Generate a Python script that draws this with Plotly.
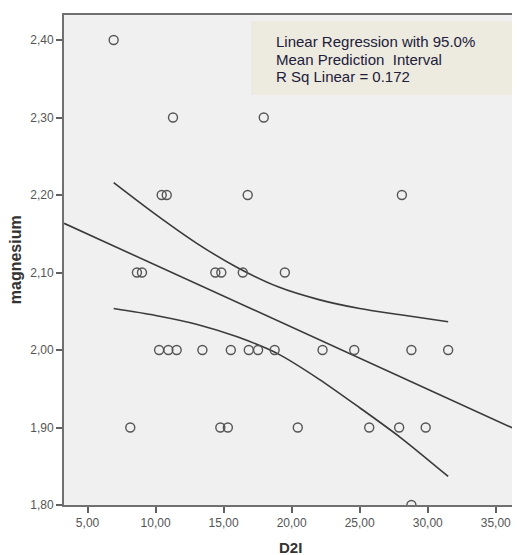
import plotly.graph_objects as go

# Scatter data (D2I vs magnesium)
d2i = [6.92, 11.28, 17.95,
       10.45, 10.82, 16.77, 28.1,
       8.63, 9.0, 14.39, 14.83, 16.41, 19.5,
       10.26, 10.94, 11.55, 13.44, 15.53, 16.85, 17.53, 18.75, 22.27, 24.6, 28.8, 31.5,
       8.14, 14.76, 15.31, 20.45, 25.7, 27.9, 29.85,
       28.8]
magnesium = [2.40, 2.30, 2.30,
             2.20, 2.20, 2.20, 2.20,
             2.10, 2.10, 2.10, 2.10, 2.10, 2.10,
             2.00, 2.00, 2.00, 2.00, 2.00, 2.00, 2.00, 2.00, 2.00, 2.00, 2.00, 2.00,
             1.90, 1.90, 1.90, 1.90, 1.90, 1.90, 1.90,
             1.80]

# Fit line
fit_x = [3.27, 36.56]
fit_y = [2.1635, 1.8968]

# 95% mean prediction interval curves
band_x = [6.92, 10, 13, 16, 19, 22, 25, 28, 31.5]
upper_y = [2.2160, 2.1750, 2.1380, 2.1065, 2.0815, 2.0650, 2.0535, 2.0455, 2.0365]
lower_y = [2.0535, 2.0446, 2.0333, 2.0170, 1.9950, 1.9625, 1.9255, 1.8870, 1.8368]

x_ticks = [5, 10, 15, 20, 25, 30, 35]
y_ticks = [1.8, 1.9, 2.0, 2.1, 2.2, 2.3, 2.4]

legend_lines = ["Linear Regression with 95.0%", "Mean Prediction  Interval", "R Sq Linear = 0.172"]

fig = go.Figure()
line_style = dict(color="#3a3a3a", width=1.6)
fig.add_trace(go.Scatter(x=fit_x, y=fit_y, mode="lines", line=line_style, hoverinfo="skip"))
fig.add_trace(go.Scatter(x=band_x, y=upper_y, mode="lines", line=dict(shape="spline", smoothing=0.8, **line_style), hoverinfo="skip"))
fig.add_trace(go.Scatter(x=band_x, y=lower_y, mode="lines", line=dict(shape="spline", smoothing=0.8, **line_style), hoverinfo="skip"))
fig.add_trace(go.Scatter(x=d2i, y=magnesium, mode="markers",
                         marker=dict(symbol="circle-open", size=9, color="#555555", line=dict(width=1.4, color="#555555"))))

# page body adds an 8px margin, so the figure is 8px smaller and margins shifted
fig.update_layout(
    width=512, height=547,
    margin=dict(l=56, r=1, t=7, b=50),
    paper_bgcolor="white", plot_bgcolor="#F0F0F0",
    showlegend=False,
    separators=",.",
    font=dict(family="Liberation Sans, Arial, sans-serif", color="#555555"),
)
axis_common = dict(showgrid=False, zeroline=False, showline=True, mirror=True,
                   linecolor="#707070", linewidth=2, ticks="outside", ticklen=6,
                   tickwidth=1.5, tickcolor="#606060", tickformat=".2f",
                   tickfont=dict(size=12, color="#555555"))
fig.update_xaxes(range=[3.27, 36.56], tickvals=x_ticks, **axis_common)
fig.update_yaxes(range=[1.80, 2.4323], tickvals=y_ticks, **axis_common)

# Legend box
fig.add_shape(type="rect", xref="paper", yref="paper", x0=0.413, x1=0.997, y0=0.837, y1=0.988,
              fillcolor="#EDEAE0", line=dict(width=0), layer="below")
for txt, yy in zip(legend_lines, [0.9455, 0.9102, 0.8735]):
    fig.add_annotation(text=txt, xref="paper", yref="paper", x=0.4637, y=yy,
                       xanchor="left", yanchor="middle", showarrow=False,
                       font=dict(size=15, color="#20203a", family="Liberation Sans, Arial, sans-serif"))

# Axis titles
fig.add_annotation(text="<b>magnesium</b>", xref="paper", yref="paper", x=-0.1077, y=0.5,
                   textangle=-90, xanchor="center", yanchor="middle", showarrow=False,
                   font=dict(size=16, color="#333333"))
fig.add_annotation(text="<b>D2I</b>", xref="paper", yref="paper", x=0.5, y=-0.0865,
                   xanchor="center", yanchor="middle", showarrow=False,
                   font=dict(size=15, color="#333333"))

fig.write_html("out.html")
